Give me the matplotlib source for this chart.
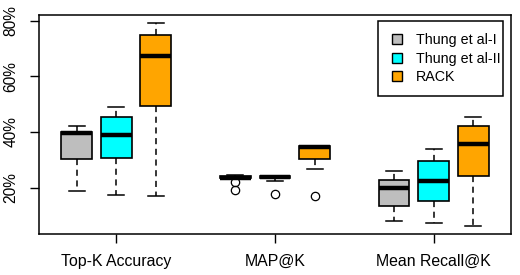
import matplotlib.pyplot as plt
from matplotlib.patches import Patch, Rectangle

plt.rcParams['font.family'] = ['Liberation Sans', 'DejaVu Sans']

# metrics on the x axis, one group of three boxes each
metrics = ['Top-K Accuracy', 'MAP@K', 'Mean Recall@K']
methods = ['Thung et al-I', 'Thung et al-II', 'RACK']
colors = ['#BEBEBE', '#00FFFF', '#FFA500']

# box statistics (percent), order: Top-K, MAP, Recall
thung1_whislo = [18.9, 23.3, 7.9]
thung1_q1 = [30.1, 23.3, 13.5]
thung1_med = [39.6, 23.6, 20.0]
thung1_q3 = [40.0, 24.0, 22.9]
thung1_whishi = [42.3, 24.7, 26.1]
thung1_fliers = [[], [21.9, 19.0], []]

thung2_whislo = [17.5, 22.2, 7.1]
thung2_q1 = [30.8, 23.5, 15.1]
thung2_med = [38.8, 23.8, 22.5]
thung2_q3 = [45.4, 24.2, 29.7]
thung2_whishi = [48.8, 24.2, 33.7]
thung2_fliers = [[], [17.6], []]

rack_whislo = [16.8, 26.5, 6.3]
rack_q1 = [49.5, 30.4, 24.1]
rack_med = [67.2, 34.6, 35.8]
rack_q3 = [75.0, 35.1, 42.3]
rack_whishi = [79.0, 35.1, 45.2]
rack_fliers = [[], [17.0], []]

yticks = [20, 40, 60, 80]

series = [
    (thung1_whislo, thung1_q1, thung1_med, thung1_q3, thung1_whishi, thung1_fliers),
    (thung2_whislo, thung2_q1, thung2_med, thung2_q3, thung2_whishi, thung2_fliers),
    (rack_whislo, rack_q1, rack_med, rack_q3, rack_whishi, rack_fliers),
]

fig = plt.figure(figsize=(5.2, 2.75), dpi=100)
ax = fig.add_axes([0.0756, 0.149, 0.9064, 0.796])

for j, (lo, q1, med, q3, hi, fl) in enumerate(series):
    stats = []
    for i in range(len(metrics)):
        stats.append(dict(whislo=lo[i], q1=q1[i], med=med[i], q3=q3[i],
                          whishi=hi[i], fliers=fl[i]))
    pos = [4 * i + 1 + j for i in range(len(metrics))]
    ax.bxp(stats, positions=pos, widths=0.78, patch_artist=True,
           showfliers=True, capwidths=0.4,
           boxprops=dict(facecolor=colors[j], edgecolor='black', linewidth=1.2),
           medianprops=dict(color='black', linewidth=3.2, solid_capstyle='butt'),
           whiskerprops=dict(color='black', linewidth=1.1, linestyle=(0, (4, 3))),
           capprops=dict(color='black', linewidth=1.1),
           flierprops=dict(marker='o', markerfacecolor='none', markeredgecolor='black',
                           markersize=6, markeredgewidth=0.9))

ax.set_xlim(0.06, 11.94)
ax.set_ylim(3.3, 82.0)
ax.set_xticks([2, 6, 10])
ax.set_xticklabels(metrics, fontsize=11.4)
ax.set_yticks(yticks)
ax.set_yticklabels(['%d%%' % v for v in yticks], fontsize=11.2, rotation=90, va='center')
ax.tick_params(axis='x', length=6.2, width=1, pad=8)
ax.tick_params(axis='y', length=6.2, width=1, pad=9)
for s in ax.spines.values():
    s.set_linewidth(1.1)

# legend box drawn separately, R style
ax.add_patch(Rectangle((0.719, 0.630), 0.265, 0.344, transform=ax.transAxes,
                       facecolor='white', edgecolor='black', linewidth=1.1, zorder=4))
handles = [Patch(facecolor=c, edgecolor='black', linewidth=1) for c in colors]
leg = ax.legend(handles, methods, loc='center left', bbox_to_anchor=(0.7476, 0.800),
                borderaxespad=0, borderpad=0, fontsize=10.3, frameon=False,
                handlelength=0.7, handleheight=0.7, handletextpad=1.0,
                labelspacing=0.32)
leg.set_zorder(5)

fig.savefig('out.png', dpi=100)
